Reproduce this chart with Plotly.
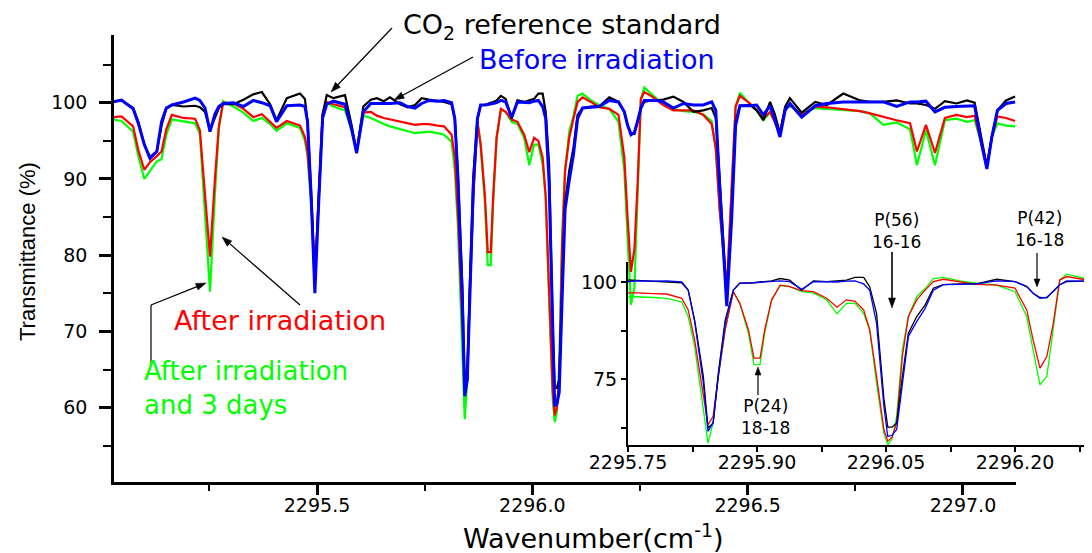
import math
import plotly.graph_objects as go

# ---------------- data ----------------
wavenumber = [
    2295.027, 2295.046, 2295.073, 2295.085, 2295.099, 2295.112, 2295.128, 2295.139, 2295.150, 2295.163,
    2295.190, 2295.217, 2295.228, 2295.240, 2295.2515, 2295.263, 2295.272, 2295.282, 2295.306, 2295.329,
    2295.352, 2295.372, 2295.391, 2295.406, 2295.430, 2295.4605, 2295.472, 2295.478, 2295.487, 2295.495,
    2295.504, 2295.513, 2295.5225, 2295.538, 2295.565, 2295.5805, 2295.592, 2295.6075, 2295.625, 2295.639,
    2295.655, 2295.6695, 2295.693, 2295.710, 2295.7276, 2295.743, 2295.760, 2295.780, 2295.795, 2295.8125,
    2295.820, 2295.8275, 2295.8376, 2295.843, 2295.849, 2295.855, 2295.863, 2295.8725, 2295.880, 2295.890,
    2295.8965, 2295.9035, 2295.909, 2295.917, 2295.927, 2295.938, 2295.952, 2295.9655, 2295.981, 2295.993,
    2296.004, 2296.014, 2296.024, 2296.031, 2296.039, 2296.0475, 2296.052, 2296.057, 2296.0624, 2296.069,
    2296.076, 2296.0857, 2296.0955, 2296.105, 2296.1166, 2296.136, 2296.155, 2296.1787, 2296.200, 2296.2136,
    2296.221, 2296.229, 2296.237, 2296.2445, 2296.252, 2296.260, 2296.2756, 2296.289, 2296.304, 2296.3275,
    2296.351, 2296.374, 2296.397, 2296.4165, 2296.426, 2296.435, 2296.4515, 2296.463, 2296.472, 2296.482,
    2296.5055, 2296.521, 2296.5365, 2296.552, 2296.563, 2296.575, 2296.587, 2296.598, 2296.6255, 2296.657,
    2296.684, 2296.722, 2296.761, 2296.784, 2296.815, 2296.846, 2296.877, 2296.893, 2296.914, 2296.935,
    2296.958, 2296.985, 2297.009, 2297.027, 2297.0435, 2297.0555, 2297.067, 2297.080, 2297.100, 2297.121,
]

co2_reference = [
    100.2, 100.3, 99.3, 97.5, 94.5, 92.9, 93.6, 97.0, 99.2, 99.7,
    99.5, 99.6, 99.4, 98.8, 96.4, 98.0, 99.3, 99.8, 99.8, 100.4,
    101.1, 101.4, 99.8, 97.7, 100.6, 101.2, 100.5, 97.5, 87.5, 76.5,
    87.5, 98.5, 101.0, 100.6, 101.0, 97.0, 93.4, 99.5, 100.4, 100.6,
    100.2, 100.7, 99.8, 99.4, 99.7, 100.6, 100.4, 100.2, 100.1, 99.8,
    97.9, 90.2, 75.7, 62.4, 63.7, 76.5, 90.2, 97.9, 99.7, 99.7,
    99.8, 100.0, 100.1, 100.3, 100.9, 100.5, 97.9, 100.3, 100.1, 100.3,
    100.5, 101.2, 101.2, 98.8, 91.9, 70.0, 62.6, 62.6, 63.7, 75.7,
    86.8, 91.1, 94.1, 98.4, 99.3, 99.5, 99.5, 100.7, 100.1, 98.8,
    97.1, 96.0, 95.9, 97.6, 99.3, 100.1, 100.3, 100.3, 100.4, 100.8,
    100.1, 98.8, 99.0, 99.3, 98.0, 90.0, 74.0, 86.0, 97.5, 99.6,
    99.7, 99.0, 97.7, 100.1, 98.5, 96.0, 99.5, 100.6, 98.7, 100.1,
    99.7, 101.2, 100.3, 100.1, 100.1, 100.3, 99.9, 99.9, 99.7, 99.2,
    100.2, 99.9, 100.3, 100.0, 95.0, 91.6, 95.5, 99.0, 100.3, 100.8,
]

before_irradiation = [
    100.1, 100.35, 99.2, 97.3, 94.5, 92.7, 93.6, 97.5, 99.3, 99.7,
    100.1, 100.6, 100.3, 99.3, 96.2, 98.5, 99.5, 99.9, 100.0, 99.5,
    100.3, 100.0, 99.6, 97.5, 99.6, 99.7, 99.5, 97.5, 87.0, 75.0,
    87.0, 98.0, 99.8, 100.2, 99.8, 96.5, 93.4, 98.8, 99.9, 99.9,
    99.9, 99.9, 100.0, 99.5, 99.3, 99.9, 100.3, 100.2, 100.3, 100.0,
    97.9, 89.8, 74.0, 61.5, 63.7, 75.7, 89.4, 97.9, 99.7, 99.7,
    99.8, 99.9, 99.9, 100.0, 100.3, 100.1, 98.1, 100.1, 100.0, 100.0,
    100.2, 100.3, 99.5, 97.9, 89.4, 68.0, 60.2, 60.5, 62.0, 74.0,
    86.0, 89.8, 93.2, 97.9, 99.3, 99.4, 99.5, 100.3, 100.1, 98.8,
    97.1, 95.8, 96.1, 97.6, 99.3, 100.3, 100.3, 100.3, 100.1, 99.3,
    99.9, 99.7, 99.7, 100.1, 99.0, 89.0, 73.3, 85.0, 97.0, 99.6,
    99.6, 99.7, 98.4, 99.6, 97.8, 95.5, 99.0, 99.9, 98.1, 99.6,
    99.9, 100.1, 100.1, 100.1, 100.1, 99.5, 100.1, 100.1, 100.2, 98.8,
    99.4, 99.5, 99.6, 99.6, 94.5, 91.3, 95.5, 99.0, 99.9, 100.1,
]

after_irradiation = [
    98.1, 98.2, 96.9, 93.8, 91.2, 92.2, 93.0, 93.6, 96.5, 98.4,
    98.0, 97.9, 96.4, 88.0, 79.8, 90.0, 96.9, 100.0, 99.9, 99.2,
    98.1, 98.5, 97.5, 96.7, 97.6, 97.0, 95.5, 93.5, 87.0, 77.0,
    88.0, 98.5, 100.1, 99.8, 99.4, 96.5, 93.8, 98.7, 98.8, 98.3,
    98.0, 97.8, 97.5, 97.3, 97.1, 97.2, 97.2, 97.0, 96.9, 95.8,
    92.8, 85.1, 70.5, 63.2, 65.4, 75.7, 87.7, 97.5, 94.5, 87.7,
    80.4, 80.4, 87.7, 95.4, 99.2, 98.8, 97.8, 97.5, 95.8, 93.5,
    95.4, 95.0, 92.8, 87.7, 75.7, 62.0, 59.0, 60.0, 63.7, 80.8,
    91.1, 95.4, 97.9, 100.1, 100.7, 100.1, 99.4, 99.2, 98.4, 92.8,
    85.1, 77.8, 80.8, 89.4, 100.5, 101.4, 100.9, 100.3, 99.7, 99.0,
    99.0, 99.0, 98.4, 97.2, 94.0, 86.0, 75.5, 90.0, 99.5, 100.9,
    99.9, 99.0, 97.9, 98.8, 97.5, 96.0, 99.2, 99.7, 98.4, 99.5,
    99.4, 99.2, 98.9, 98.6, 98.1, 97.7, 97.3, 93.6, 97.1, 93.4,
    98.0, 98.4, 98.1, 98.3, 94.5, 91.8, 95.5, 98.2, 98.0, 97.6,
]

after_irradiation_3_days = [
    97.8, 97.6, 96.2, 93.0, 90.0, 91.0, 92.3, 92.6, 95.8, 97.8,
    97.5, 97.3, 95.9, 86.0, 75.2, 88.0, 96.5, 100.2, 99.5, 98.7,
    97.6, 98.0, 97.2, 96.3, 97.3, 96.7, 95.0, 93.0, 86.0, 76.0,
    87.5, 98.0, 100.0, 99.5, 99.0, 96.3, 93.6, 98.3, 98.0, 97.6,
    97.2, 96.9, 96.5, 96.3, 96.0, 96.1, 96.2, 96.0, 95.8, 94.9,
    91.1, 83.4, 68.0, 58.5, 63.7, 75.7, 87.7, 97.5, 94.5, 86.8,
    78.7, 78.7, 86.8, 95.4, 99.1, 98.8, 97.5, 97.2, 95.4, 91.8,
    94.5, 94.5, 91.9, 87.7, 74.0, 61.0, 58.1, 59.5, 65.4, 82.5,
    91.1, 96.2, 98.3, 100.9, 101.2, 100.3, 99.7, 99.2, 97.5, 91.1,
    82.5, 73.5, 75.7, 87.7, 100.5, 102.0, 101.2, 100.5, 100.0, 99.2,
    98.9, 98.8, 98.5, 97.6, 94.0, 86.0, 75.0, 90.0, 99.5, 101.3,
    99.8, 99.0, 97.7, 98.7, 97.5, 95.8, 99.1, 99.6, 98.6, 99.3,
    99.2, 99.1, 98.9, 98.6, 97.1, 97.4, 96.5, 91.8, 96.4, 91.8,
    97.7, 97.9, 97.5, 97.7, 94.5, 91.6, 95.5, 97.3, 97.0, 96.9,
]

main_tick_values = [2295.5, 2296.0, 2296.5, 2297.0]
main_tick_labels = ["2295.5", "2296.0", "2296.5", "2297.0"]
main_minor_ticks = [2295.25, 2295.75, 2296.25, 2296.75]
y_tick_values = [60, 70, 80, 90, 100]
y_minor_ticks = [55, 65, 75, 85, 95, 105]
inset_tick_values = [2295.75, 2295.90, 2296.05, 2296.20]
inset_tick_labels = ["2295.75", "2295.90", "2296.05", "2296.20"]
inset_minor_ticks = [2295.825, 2295.975, 2296.125, 2296.275]
inset_y_tick_values = [75, 100]
inset_y_minor_ticks = [62.5, 87.5]

# ---------------- geometry (page pixels; the page body adds an 8px margin) ----------------
BODY = 8
PAGE_W, PAGE_H = 1092, 553
W, H = PAGE_W - BODY, PAGE_H - BODY
PL, PT, PB, PR = 114, 35, 482, 1092          # plot area on the page
PW, PH = PR - PL, PB - PT


def px(xp):
    return (xp - PL) / PW


def py(yp):
    return (PB - yp) / PH


series = [
    ("After irradiation and 3 days", after_irradiation_3_days, "#00ff00", 2.2),
    ("After irradiation", after_irradiation, "#ff0000", 2.2),
    ("CO2 reference standard", co2_reference, "#000000", 2.2),
    ("Before irradiation", before_irradiation, "#0000ff", 3.0),
]

fig = go.Figure()
for name, vals, color, lw in series:
    fig.add_trace(go.Scatter(x=wavenumber, y=vals, mode="lines", name=name,
                             line=dict(color=color, width=lw), xaxis="x", yaxis="y",
                             showlegend=False, hoverinfo="skip"))
for name, vals, color, lw in series:
    fig.add_trace(go.Scatter(x=wavenumber, y=vals, mode="lines", name=name + " (inset)",
                             line=dict(color=color, width=1.3), xaxis="x2", yaxis="y2",
                             showlegend=False, hoverinfo="skip"))

TICKFONT = dict(family="DejaVu Sans", size=19, color="black")

axis_common = dict(showline=True, linecolor="black", showgrid=False, zeroline=False,
                   ticks="outside", tickcolor="black", tickfont=TICKFONT, tickmode="array")

fig.update_layout(
    width=W, height=H,
    margin=dict(l=PL - BODY, r=0, t=PT - BODY, b=H - (PB - BODY)),
    paper_bgcolor="white", plot_bgcolor="rgba(0,0,0,0)",
    xaxis=dict(axis_common, domain=[0, px(1016)], range=[2295.0286, 2297.1231], anchor="y",
               linewidth=2.5, ticklen=10, tickwidth=2.5, ticklabelstandoff=-6,
               tickvals=main_tick_values, ticktext=main_tick_labels,
               minor=dict(tickmode="array", tickvals=main_minor_ticks, ticks="outside",
                          ticklen=6, tickwidth=2, tickcolor="black")),
    yaxis=dict(axis_common, domain=[0, 1], range=[50.25, 108.88], anchor="x",
               linewidth=2.5, ticklen=12, tickwidth=2.5, ticklabelstandoff=8,
               tickvals=y_tick_values, ticktext=[str(v) for v in y_tick_values],
               minor=dict(tickmode="array", tickvals=y_minor_ticks, ticks="outside",
                          ticklen=8, tickwidth=2, tickcolor="black")),
    xaxis2=dict(axis_common, domain=[px(628), 1], range=[2295.75, 2296.2895], anchor="y2",
                linewidth=2, ticklen=5, tickwidth=1.5, ticklabelstandoff=-6,
                tickvals=inset_tick_values, ticktext=inset_tick_labels,
                minor=dict(tickmode="array", tickvals=inset_minor_ticks, ticks="outside",
                           ticklen=5, tickwidth=1.5, tickcolor="black")),
    yaxis2=dict(axis_common, domain=[py(445), py(262)], range=[58.0, 105.15], anchor="x2",
                linewidth=2, ticklen=5, tickwidth=1.5,
                tickvals=inset_y_tick_values, ticktext=[str(v) for v in inset_y_tick_values],
                minor=dict(tickmode="array", tickvals=inset_y_minor_ticks, ticks="outside",
                           ticklen=5, tickwidth=1.5, tickcolor="black")),
)

annotations = []
shapes = []


def text(t, x, y, color="black", size=26, xanchor="left", family="DejaVu Sans", angle=0,
         align="left"):
    annotations.append(dict(text=t, x=px(x), y=py(y), xref="paper", yref="paper",
                            xanchor=xanchor, yanchor="middle", showarrow=False,
                            textangle=angle, align=align,
                            font=dict(family=family, size=size, color=color)))


def seg(p0, p1, width=1.2):
    shapes.append(dict(type="line", xref="paper", yref="paper",
                       x0=px(p0[0]), y0=py(p0[1]), x1=px(p1[0]), y1=py(p1[1]),
                       line=dict(color="black", width=width)))


def arrow(tail, tip, width=1.2, head_len=10, head_w=3.5):
    dx, dy = tip[0] - tail[0], tip[1] - tail[1]
    d = math.hypot(dx, dy)
    ux, uy = dx / d, dy / d
    bx, by = tip[0] - ux * head_len, tip[1] - uy * head_len
    seg(tail, (bx + ux * 1, by + uy * 1), width)
    nx, ny = -uy, ux
    p1 = (bx + nx * head_w, by + ny * head_w)
    p2 = (bx - nx * head_w, by - ny * head_w)
    path = "M {:.5f} {:.5f} L {:.5f} {:.5f} L {:.5f} {:.5f} Z".format(
        px(tip[0]), py(tip[1]), px(p1[0]), py(p1[1]), px(p2[0]), py(p2[1]))
    shapes.append(dict(type="path", xref="paper", yref="paper", path=path,
                       fillcolor="black", line=dict(color="black", width=0.5)))


text("CO<sub>2</sub> reference standard", 401, 27, "black", 27)
arrow((392, 28), (331, 92))
text("Before irradiation", 477, 59, "#0000ff", 27)
arrow((473, 57), (394, 100))
text("After irradiation", 172, 320, "#ff0000", 27)
arrow((300, 305), (222, 237))
text("After irradiation<br>and 3 days", 142, 388, "#00ff00", 26)
seg((151, 363), (151, 305))
arrow((151, 305), (206, 283))

text("P(56)<br>16-16", 896, 231, size=17, xanchor="center", align="center")
arrow((892, 252), (892, 308), 1.6, 10, 3.5)
text("P(42)<br>16-18", 1039, 229, size=17, xanchor="center", align="center")
arrow((1037, 253), (1037, 287), 1.2, 8, 3)
text("P(24)<br>18-18", 765, 417, size=17, xanchor="center", align="center")
arrow((758, 395), (758, 367), 1.2, 8, 3)

text("Wavenumber(cm<sup>-1</sup>)", 593, 536, "black", 27, xanchor="center")
text("Transmittance (%)", 27, 252, "black", 22, xanchor="center", family="Liberation Sans", angle=-90)

fig.update_layout(annotations=annotations, shapes=shapes)

fig.write_html("out.html")
